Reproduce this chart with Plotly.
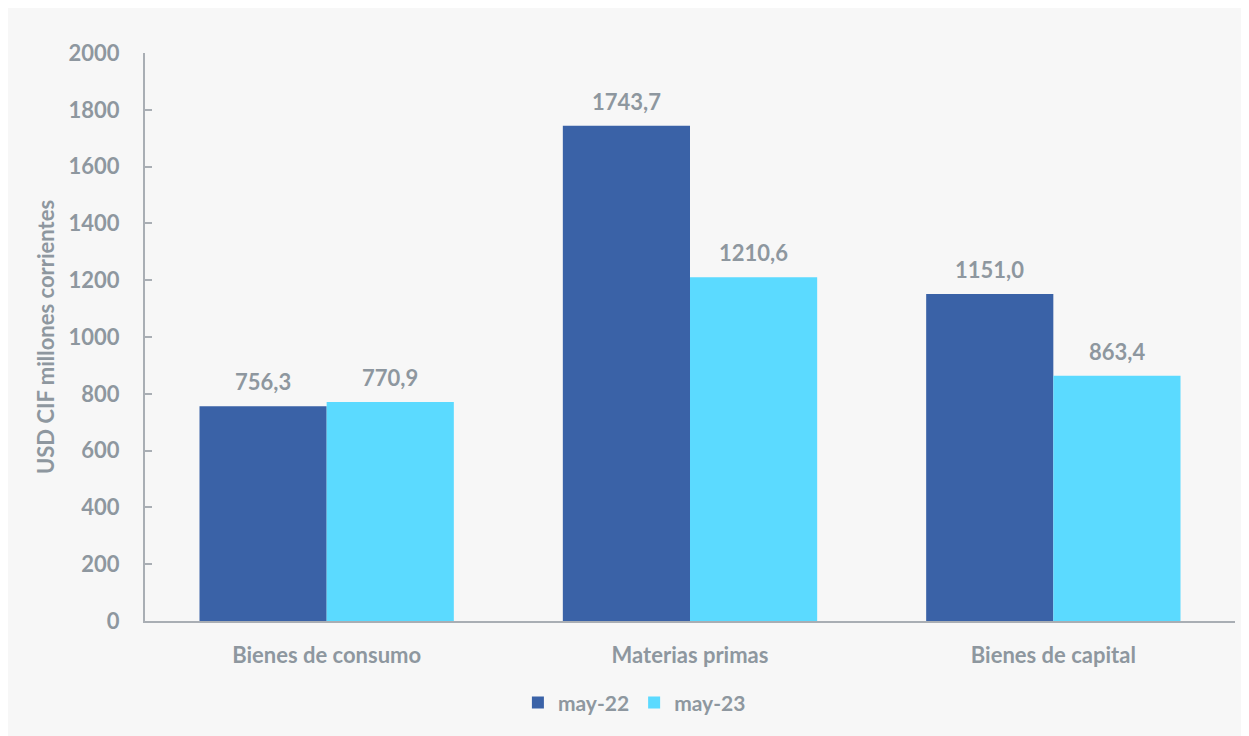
import plotly.graph_objects as go

categories = ["Bienes de consumo", "Materias primas", "Bienes de capital"]
series_names = ["may-22", "may-23"]
may22 = [756.3, 1743.7, 1151.0]
may23 = [770.9, 1210.6, 863.4]
y_ticks = [0, 200, 400, 600, 800, 1000, 1200, 1400, 1600, 1800, 2000]

colors = ["#3A62A7", "#5BDAFF"]
txt = "#8E979F"
font_family = "Lato, 'Open Sans', sans-serif"

def fmt(v):
    return f"{v:.1f}".replace(".", ",")

fig = go.Figure()
for name, vals, col in zip(series_names, [may22, may23], colors):
    fig.add_trace(go.Bar(x=categories, y=vals, name=name, marker_color=col,
                         marker_line_width=0))

annotations = []
for k, vals in enumerate([may22, may23]):
    off = -0.175 if k == 0 else 0.175
    for i, v in enumerate(vals):
        annotations.append(dict(x=i + off, y=v, xref="x", yref="y", text=fmt(v),
                                showarrow=False, yanchor="bottom", yshift=9,
                                font=dict(size=22, color=txt, family=font_family, weight="bold")))

fig.update_layout(
    width=1241, height=728,
    margin=dict(l=137, r=14, t=45, b=115),
    paper_bgcolor="#F7F7F7",
    plot_bgcolor="#F7F7F7",
    barmode="group", bargap=0.3, bargroupgap=0,
    font=dict(family=font_family, color=txt, size=21, weight="bold"),
    showlegend=True,
    legend=dict(orientation="h", x=0.449, xanchor="center", y=-0.144, yanchor="middle",
                font=dict(size=21, color=txt, family=font_family, weight="bold"),
                itemwidth=30, traceorder="normal", bgcolor="rgba(0,0,0,0)"),
    annotations=annotations,
)
fig.update_yaxes(range=[0, 2000], tickvals=y_ticks, showgrid=False, zeroline=False,
                 showline=True, linecolor="#A9AEB4", linewidth=2,
                 ticks="inside", ticklen=7, tickcolor="#A9AEB4", tickwidth=1.5,
                 ticklabelstandoff=19,
                 tickfont=dict(size=22, color=txt, family=font_family, weight="bold"),
                 title=dict(text="USD CIF millones corrientes", standoff=8,
                            font=dict(size=22, color=txt, family=font_family, weight="bold")))
fig.update_xaxes(showgrid=False, showline=True, linecolor="#A9AEB4", linewidth=2,
                 ticks="", ticklabelstandoff=14,
                 tickfont=dict(size=22, color=txt, family=font_family, weight="bold"))

fig.write_html("out.html")
